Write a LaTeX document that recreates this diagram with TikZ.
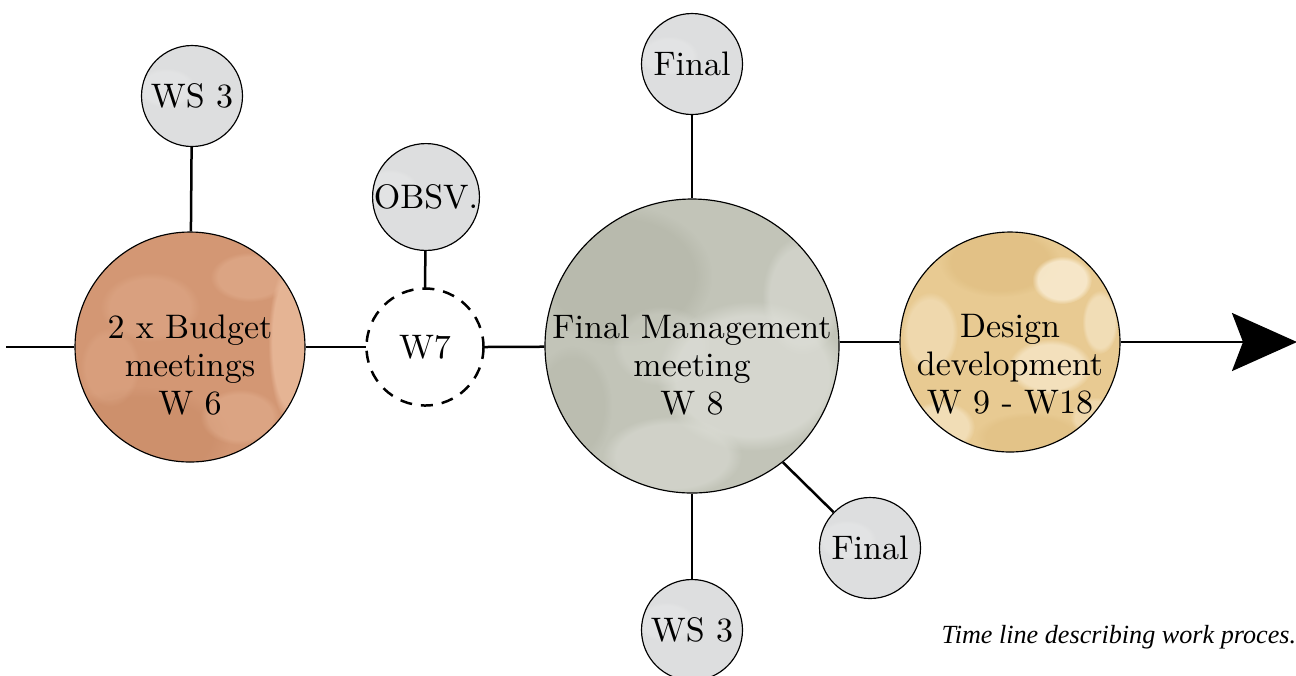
\documentclass[tikz,border=0pt]{standalone}
\usepackage{fontspec}
\newfontfamily\capfont{Liberation Serif}[ItalicFont={Liberation Serif Italic}]
\usetikzlibrary{arrows.meta,fadings}

% palette
\definecolor{clay}{RGB}{211,151,116}
\definecolor{claylight}{RGB}{236,190,160}
\definecolor{claydark}{RGB}{200,138,102}
\definecolor{sage}{RGB}{194,196,184}
\definecolor{sagelight}{RGB}{222,223,216}
\definecolor{sagedark}{RGB}{178,180,166}
\definecolor{sand}{RGB}{232,202,146}
\definecolor{sandlight}{RGB}{248,234,206}
\definecolor{sanddark}{RGB}{222,188,126}
\definecolor{mist}{RGB}{221,222,223}
\definecolor{mistlight}{RGB}{232,233,233}

\newcommand{\bodysize}{\fontsize{10.2}{11.4}\selectfont}

\tikzset{
  blob/.style={path fading=circle with fuzzy edge 20 percent},
  bubble/.style={circle, draw=black, line width=0.35pt, inner sep=0pt, font=\bodysize},
  small/.style={bubble, minimum size=30.3pt, fill=mist,
    path picture={\begin{scope}[shift={(path picture bounding box.center)}]
      \fill[mistlight, blob, opacity=.5] (15,-20) ellipse (30 and 20);
      \fill[mistlight, blob, opacity=.4] (-20,25) ellipse (25 and 18);
    \end{scope}}},
  budgetfill/.style={fill=clay,
    path picture={\begin{scope}[shift={(path picture bounding box.center)}]
      \fill[claydark, blob, opacity=.5] (-50,90) ellipse (90 and 50);
      \fill[claylight, blob, opacity=.75, rotate=-30] (100,-5) ellipse (22 and 80);
      \fill[claylight, blob, opacity=.35] (60,-70) ellipse (40 and 25);
      \fill[claylight, blob, opacity=.25] (-40,-40) ellipse (50 and 35);
      \fill[claylight, blob, opacity=.35] (50,70) ellipse (40 and 28);
      \fill[claylight, blob, opacity=.2] (-80,20) ellipse (30 and 40);
    \end{scope}}},
  meetfill/.style={fill=sage,
    path picture={\begin{scope}[shift={(path picture bounding box.center)}]
      \fill[sagedark, blob, opacity=.6] (-70,-70) ellipse (90 and 70);
      \fill[sagelight, blob, opacity=.7] (60,30) ellipse (95 and 75);
      \fill[sagelight, blob, opacity=.5] (-20,110) ellipse (70 and 40);
      \fill[sagelight, blob, opacity=.5] (110,-50) ellipse (40 and 60);
      \fill[sagedark, blob, opacity=.4] (-120,60) ellipse (40 and 60);
      \fill[sagelight, blob, opacity=.3] (-30,0) ellipse (50 and 40);
    \end{scope}}},
  designfill/.style={fill=sand,
    path picture={\begin{scope}[shift={(path picture bounding box.center)}]
      \fill[sanddark, blob, opacity=.6] (-10,-80) ellipse (60 and 35);
      \fill[sandlight, blob, opacity=.9] (52,-62) ellipse (30 and 24);
      \fill[sandlight, blob, opacity=.7] (40,25) ellipse (42 and 28);
      \fill[sandlight, blob, opacity=.6] (-70,85) ellipse (35 and 26);
      \fill[sandlight, blob, opacity=.6] (90,-20) ellipse (18 and 32);
      \fill[sandlight, blob, opacity=.45] (-80,-10) ellipse (28 and 40);
      \fill[sanddark, blob, opacity=.45] (20,95) ellipse (55 and 25);
      \fill[sandlight, blob, opacity=.45] (85,75) ellipse (25 and 20);
    \end{scope}}},
  txt/.style={font=\bodysize, align=center, inner sep=0pt, anchor=north},
  link/.style={line width=0.75pt},
}

\begin{document}
\begin{tikzpicture}[x=0.3pt, y=-0.3pt]
  \clip (0,0) rectangle (1296,675);

  % main bubbles along the time line
  \node[bubble, budgetfill, minimum size=69pt] (budget) at (190,347) {};
  \node[bubble, draw=none, minimum size=35pt] (w7) at (425,347) {W7};
  \draw[line width=0.75pt, dash pattern=on 3.6pt off 2.7pt] (w7.center) circle [radius=58.5];
  \node[bubble, meetfill, minimum size=88.2pt] (meet) at (692,346) {};
  \node[bubble, designfill, minimum size=66pt] (design) at (1010,342) {};

  % texts of the main bubbles
  \node[txt] (budgettxt) at (190,314) {2 x Budget\\meetings\\W 6};
  \node[txt] (meettxt) at (692,314) {Final Management\\meeting\\W 8};
  \node[txt] (designtxt) at (1010,314) {Design\\development\\W 9 - W18};

  % side bubbles
  \node[small] (ws3a) at (192,96) {WS 3};
  \node[small] (obsv) at (426,197) {OBSV.};
  \node[small] (final1) at (692,64) {Final};
  \node[small] (final2) at (870,548) {Final};
  \node[small] (ws3b) at (692,630) {WS 3};

  % time line
  \coordinate (start) at (6,347);
  \coordinate (finish) at (1297,342);
  \draw[link] (start) -- (budget);
  \draw[link] (budget) -- (w7.west);
  \draw[link] (w7.east) -- (meet);
  \draw[link] (meet.east |- design) -- (design);
  \draw[link, -{Stealth[length=19.5pt, width=17.4pt, inset=3.3pt]}] (design) -- (finish);

  % branches
  \draw[link] (budget) -- (ws3a);
  \draw[link] (w7.north) -- (obsv);
  \draw[link] (meet) -- (final1);
  \draw[link] (meet) -- (ws3b);
  \draw[link] (meet.-52.4) -- (final2);

  % caption
  \node[anchor=base west, inner sep=0pt, font=\capfont\itshape\fontsize{7.85}{9}\selectfont] (caption) at (941,643) {Time line describing work proces.};
\end{tikzpicture}
\end{document}
